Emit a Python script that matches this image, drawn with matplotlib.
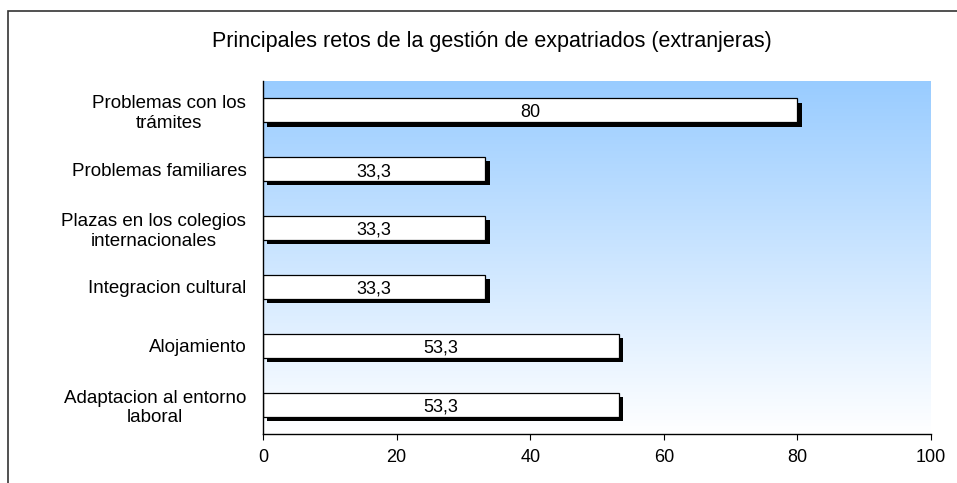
import numpy as np
import matplotlib.pyplot as plt
import matplotlib.patheffects as pe
from matplotlib.colors import LinearSegmentedColormap
from matplotlib.patches import Rectangle

plt.rcParams['font.family'] = ['Liberation Sans', 'DejaVu Sans']

categorias = ['Problemas con los\ntrámites', 'Problemas familiares',
              'Plazas en los colegios\ninternacionales', 'Integracion cultural',
              'Alojamiento', 'Adaptacion al entorno\nlaboral']
valores = [80, 33.3, 33.3, 33.3, 53.3, 53.3]
etiquetas = ['80', '33,3', '33,3', '33,3', '53,3', '53,3']
ticks_x = [0, 20, 40, 60, 80, 100]

fig = plt.figure(figsize=(9.57, 4.83), dpi=100)
ax = fig.add_axes([263 / 957, 1 - 434 / 483, (931 - 263) / 957, (434 - 81) / 483])

# fondo degradado azul -> blanco
grad = LinearSegmentedColormap.from_list('fondo', ['#99ccff', '#ffffff'])
ax.imshow(np.linspace(0, 1, 256).reshape(-1, 1), cmap=grad, aspect='auto',
          extent=[0, 100, len(categorias) - 0.5, -0.5], zorder=0)

y = np.arange(len(categorias))
sombra = [pe.SimplePatchShadow(offset=(3, -3), shadow_rgbFace='black', alpha=1.0), pe.Normal()]
barras = ax.barh(y, valores, height=0.41, color='white', edgecolor='black',
                 linewidth=0.9, zorder=2)
for b in barras:
    b.set_path_effects(sombra)

for yi, v, t in zip(y, valores, etiquetas):
    ax.text(v / 2, yi + 0.04, t, ha='center', va='center', fontsize=13, zorder=3)

ax.set_xlim(0, 100)
ax.set_ylim(len(categorias) - 0.5, -0.5)
ax.set_xticks(ticks_x)
ax.set_xticklabels([str(t) for t in ticks_x], fontsize=13)
ax.set_yticks(y)
ax.set_yticklabels(categorias, fontsize=13.5, multialignment='center', linespacing=1.2)
ax.tick_params(axis='y', length=0, pad=12)
ax.tick_params(axis='x', length=4, direction='out', pad=7)
for s in ['top', 'right']:
    ax.spines[s].set_visible(False)
ax.spines['left'].set_linewidth(1)
ax.spines['bottom'].set_linewidth(1)

fig.text(492 / 957, 1 - 42 / 483, 'Principales retos de la gestión de expatriados (extranjeras)',
         ha='center', va='center', fontsize=15.5)

# marco exterior del gráfico
fig.patches.append(Rectangle((8 / 957, -0.05), 1.1, 1 - 11 / 483 + 0.05,
                             transform=fig.transFigure, fill=False,
                             edgecolor='#333333', linewidth=1.2))

fig.savefig('out.png', dpi=100)
